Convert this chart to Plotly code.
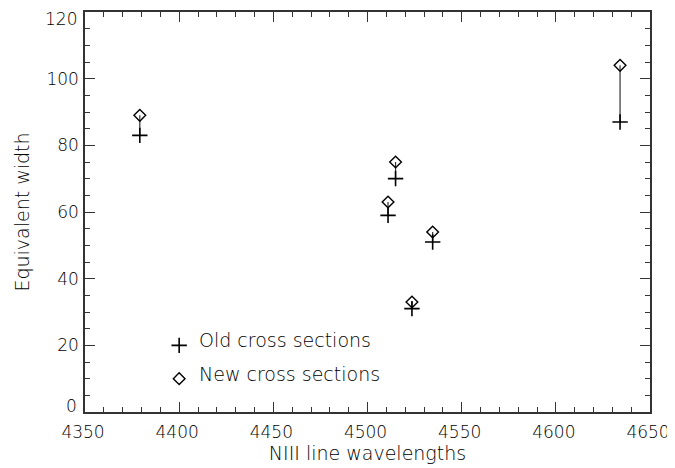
import plotly.graph_objects as go

# NIII line wavelengths (Angstrom)
wavelengths = [4379.1, 4510.9, 4514.9, 4523.6, 4534.6, 4634.1]
# Equivalent widths
old_ew = [83, 59, 70, 31, 51, 87]
new_ew = [89, 63, 75, 33, 54, 104]

# axis ticks
x_ticks = [4350, 4400, 4450, 4500, 4550, 4600, 4650]
y_ticks = [0, 20, 40, 60, 80, 100, 120]

legend_x = 4400
legend_y_old = 20
legend_y_new = 10
legend_labels = ["Old cross sections", "New cross sections"]

FONT = "DejaVu Sans"
INK = "#000000"
TXT = dict(family=FONT, size=17, color=INK, weight=200)
TXT_BIG = dict(family=FONT, size=19, color=INK, weight=200)

# connecting segments
seg_x, seg_y = [], []
for w, o, n in zip(wavelengths, old_ew, new_ew):
    seg_x += [w, w, None]
    seg_y += [o, n, None]

plus = dict(symbol="cross-thin-open", size=11, color=INK, line=dict(color=INK, width=1.6))
diam = dict(symbol="diamond-open", size=9, color=INK, line=dict(color=INK, width=1.4))

fig = go.Figure()
fig.add_trace(go.Scatter(x=seg_x, y=seg_y, mode="lines",
                         line=dict(color="#333333", width=1.2),
                         hoverinfo="skip", showlegend=False))
fig.add_trace(go.Scatter(x=wavelengths, y=old_ew, mode="markers", marker=plus, showlegend=False))
fig.add_trace(go.Scatter(x=wavelengths, y=new_ew, mode="markers", marker=diam, showlegend=False))
# in-plot legend
fig.add_trace(go.Scatter(x=[legend_x], y=[legend_y_old], mode="markers", marker=plus, showlegend=False))
fig.add_trace(go.Scatter(x=[legend_x], y=[legend_y_new], mode="markers", marker=diam, showlegend=False))
for lab, ly in zip(legend_labels, [legend_y_old, legend_y_new]):
    fig.add_annotation(x=legend_x, y=ly, text=lab, showarrow=False,
                       xanchor="left", yanchor="middle", xshift=18, yshift=5,
                       font=TXT_BIG)

# y tick labels: end labels are nudged inward (as in the original IDL plot)
y_text = [str(v) for v in y_ticks]
y_text_axis = ["" if v in (y_ticks[0], y_ticks[-1]) else t for v, t in zip(y_ticks, y_text)]
for v, t in zip(y_ticks, y_text):
    if v == y_ticks[0]:
        fig.add_annotation(xref="paper", x=0, y=v, text=t, showarrow=False,
                           xanchor="right", yanchor="middle", xshift=-6, yshift=6, font=TXT)
    elif v == y_ticks[-1]:
        fig.add_annotation(xref="paper", x=0, y=v, text=t, showarrow=False,
                           xanchor="right", yanchor="middle", xshift=-6, yshift=-7, font=TXT)

axis_common = dict(showline=True, linecolor="#333333", linewidth=1.5,
                   mirror="ticks", ticks="inside", ticklen=10, tickwidth=1.2,
                   tickcolor="#333333", showgrid=False, zeroline=False,
                   automargin=False, tickfont=TXT, ticklabeloverflow="allow")

fig.update_xaxes(range=[4350, 4650], tickvals=x_ticks, ticktext=[str(v) for v in x_ticks],
                 minor=dict(ticks="inside", ticklen=5, dtick=10, tickcolor="#333333", tickwidth=1.2),
                 ticklabelstandoff=4, ticklabelshift=-2,
                 title=dict(text="NIII line wavelengths", font=TXT_BIG, standoff=4),
                 **axis_common)
fig.update_yaxes(range=[0, 120], tickvals=y_ticks, ticktext=y_text_axis,
                 minor=dict(ticks="inside", ticklen=5, dtick=5, tickcolor="#333333", tickwidth=1.2),
                 ticklabelstandoff=1,
                 title=dict(text="Equivalent width", font=TXT_BIG, standoff=12),
                 **axis_common)

fig.update_layout(width=675, height=468, margin=dict(l=77, r=33, t=4, b=64),
                  plot_bgcolor="white", paper_bgcolor="white", showlegend=False)

fig.write_html("out.html")
